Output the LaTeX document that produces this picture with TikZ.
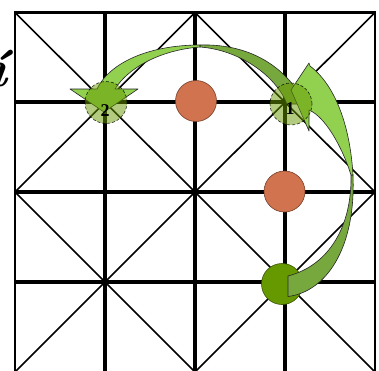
\documentclass[tikz,border=0pt]{standalone}
\usepackage{fontspec}
\newfontfamily\labfont{Liberation Serif}
\definecolor{orangeC}{RGB}{209,115,78}
\definecolor{greenC}{RGB}{102,153,0}
\definecolor{lightG}{RGB}{146,208,80}
\definecolor{darkG}{RGB}{119,168,62}
\begin{document}
\begin{tikzpicture}[x=1pt,y=-1pt,
  gridline/.style={line width=3.6pt, black},
  border/.style={line width=2.6pt, black},
  diag/.style={line width=1.6pt, black},
  piece/.style={circle, minimum size=41pt, inner sep=0pt, draw=#1!55!black, line width=0.6pt, fill=#1},
  ghost/.style={circle, minimum size=42pt, inner sep=0pt, fill=greenC, fill opacity=0.5, draw=black, draw opacity=0.8, dash pattern=on 3pt off 2pt, line width=0.6pt},
  front/.style={fill=lightG, draw=black!85, line width=0.6pt, line join=round},
  back/.style={fill=darkG, draw=black!85, line width=0.6pt, line join=round},
  lab/.style={font=\labfont\fontsize{18}{18}\selectfont\bfseries, inner sep=0pt}
]
\useasboundingbox (0,0) rectangle (379,370);
\fill[white] (0,0) rectangle (379,370);
% diagonals
\draw[diag] (15,12.5) -- (195,192) (195,12.5) -- (15,192)
            (195,12.5) -- (375,192) (375,12.5) -- (195,192)
            (15,192) -- (195,372) (195,192) -- (15,372)
            (195,192) -- (375,372) (375,192) -- (195,372);
% grid
\foreach \x in {105,195,285} \draw[gridline] (\x,12.5) -- (\x,372);
\foreach \y in {102,192,282} \draw[gridline] (15,\y) -- (375,\y);
\draw[border] (15,12.5) rectangle (375,372);
% cut glyph
\node[font=\fontsize{52}{52}\selectfont\bfseries\itshape, anchor=base east, inner sep=0pt] (glyph) at (7,86) {í};
% pieces
\node[piece=orangeC] (o1) at (196,101) {};
\node[piece=orangeC] (o2) at (284.5,191.5) {};
\node[piece=greenC] (g) at (282,284) {};
% arrow B (from 1 to 2)
\path[back] (200,45) .. controls (235,44) and (272,55) .. (297,90) -- (298,104) -- (287,104) .. controls (276,76) and (240,50) .. (200,47) -- cycle;
\path[front] (200,45) .. controls (150,45) and (110,62) .. (97,89) -- (70,89) -- (104,112) -- (138,89) -- (115,89) .. controls (128,68) and (160,50) .. (200,47) -- cycle;
% arrow A (from green piece to 1)
\path[back] (351,175) .. controls (352,225) and (330,265) .. (288,276) -- (288,296.5) .. controls (325,292) and (356,250) .. (353,175) -- cycle;
\path[front] (353,175) .. controls (350,125) and (335,85) .. (310,66) -- (309,63) -- (291,90) -- (309,131) -- (309,110) .. controls (328,118) and (345,155) .. (351,175) -- cycle;
% ghost positions
\node[ghost] (p2) at (106,102.5) {};
\node[ghost] (p1) at (291,104) {};
\node[lab] (l2) at (105,111) {2};
\node[lab] (l1) at (290,109) {1};
\end{tikzpicture}
\end{document}
